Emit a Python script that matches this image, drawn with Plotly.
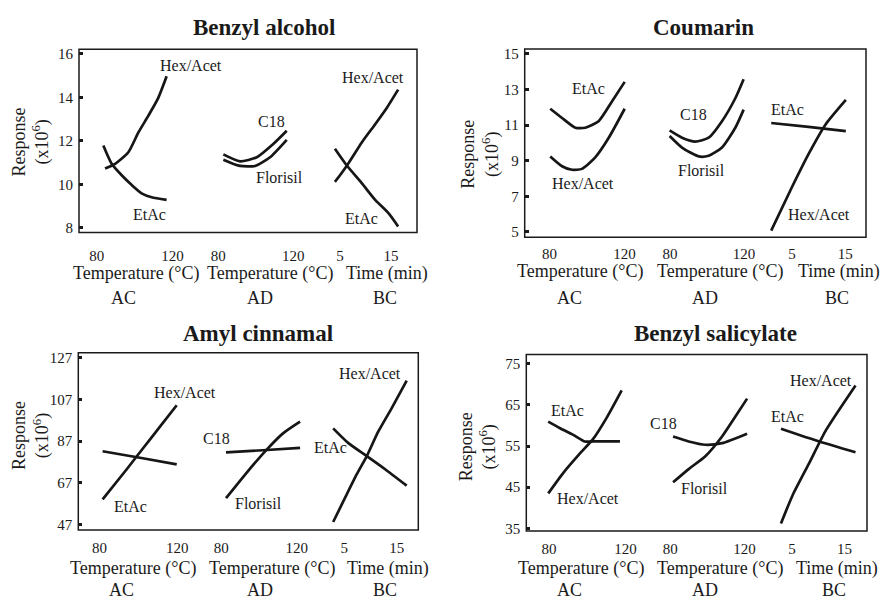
import plotly.graph_objects as go

W, H = 884, 609
SERIF = "Liberation Serif"

# ---------------- data ----------------
titles = ["Benzyl alcohol", "Coumarin", "Amyl cinnamal", "Benzyl salicylate"]
segment_names = ["AC", "AD", "BC"]
segment_axis_titles = ["Temperature (°C)", "Temperature (°C)", "Time (min)"]
segment_ticks = [[80, 120], [80, 120], [5, 15]]
y_ticks = [[8, 10, 12, 14, 16], [5, 7, 9, 11, 13, 15],
           [47, 67, 87, 107, 127], [35, 45, 55, 65, 75]]

# Benzyl alcohol
ba_ac_hex_x = [84.4, 89.7, 96.7, 102.0, 107.2, 112.5, 116.9]
ba_ac_hex_y = [10.73, 10.95, 11.48, 12.39, 13.15, 13.98, 14.97]
ba_ac_etac_x = [83.5, 87.9, 93.2, 98.5, 103.7, 109.0, 116.9]
ba_ac_etac_y = [11.79, 10.95, 10.42, 9.97, 9.59, 9.41, 9.29]
ba_ad_c18_x = [82.7, 91.6, 100.5, 109.3, 116.5]
ba_ad_c18_y = [11.38, 11.06, 11.25, 11.86, 12.47]
ba_ad_flo_x = [82.7, 91.6, 99.6, 107.6, 116.5]
ba_ad_flo_y = [11.14, 10.85, 10.85, 11.25, 12.05]
ba_bc_hex_x = [4.0, 5.0, 6.6, 9.3, 11.9, 14.2, 16.4]
ba_bc_hex_y = [10.12, 10.42, 10.95, 11.94, 12.77, 13.53, 14.36]
ba_bc_etac_x = [4.0, 6.3, 9.3, 11.9, 14.5, 16.4]
ba_bc_etac_y = [11.64, 10.88, 10.05, 9.29, 8.68, 8.07]

# Coumarin
co_ac_etac_x = [80.4, 86.7, 93.8, 99.1, 106.2, 113.3, 120.1]
co_ac_etac_y = [11.92, 11.40, 10.85, 10.85, 11.22, 12.33, 13.43]
co_ac_hex_x = [80.4, 86.7, 92.0, 97.3, 104.4, 111.6, 120.1]
co_ac_hex_y = [9.24, 8.69, 8.49, 8.54, 9.19, 10.29, 11.92]
co_ad_c18_x = [79.8, 86.5, 93.7, 100.9, 108.1, 115.3, 119.8]
co_ad_c18_y = [10.70, 10.29, 10.07, 10.29, 11.22, 12.51, 13.58]
co_ad_flo_x = [79.8, 86.5, 95.5, 100.9, 108.1, 115.3, 119.8]
co_ad_flo_y = [10.39, 9.74, 9.24, 9.28, 9.74, 10.85, 11.87]
co_bc_etac_x = [1.1, 8.1, 15.1]
co_bc_etac_y = [11.12, 10.90, 10.66]
co_bc_hex_x = [1.1, 5.0, 8.1, 11.3, 15.1]
co_bc_hex_y = [5.07, 7.52, 9.37, 11.04, 12.42]

# Amyl cinnamal
am_ac_hex_x = [81.6, 94.0, 102.5, 111.1, 119.7]
am_ac_hex_y = [59.0, 73.5, 83.7, 93.9, 104.2]
am_ac_etac_x = [81.6, 100.8, 119.7]
am_ac_etac_y = [82.1, 79.0, 75.8]
am_ad_c18_x = [82.5, 102.0, 121.8]
am_ad_c18_y = [81.6, 82.6, 83.7]
am_ad_flo_x = [82.5, 93.5, 104.1, 112.9, 121.8]
am_ad_flo_y = [59.6, 71.9, 82.9, 90.8, 96.3]
am_bc_hex_x = [2.9, 5.2, 7.4, 9.3, 11.5, 14.0, 16.9]
am_bc_hex_y = [48.2, 60.0, 71.1, 79.8, 91.6, 102.6, 116.0]
am_bc_etac_x = [2.9, 5.8, 9.3, 12.8, 16.9]
am_bc_etac_y = [93.1, 86.0, 79.8, 73.5, 65.6]

# Benzyl salicylate
bs_ac_etac_x = [79.6, 85.8, 92.7, 98.8, 103.2, 117.1]
bs_ac_etac_y = [60.9, 59.3, 57.7, 56.1, 56.1, 56.1]
bs_ac_hex_x = [79.6, 87.5, 96.2, 103.2, 110.2, 118.0]
bs_ac_hex_y = [43.5, 48.5, 53.2, 56.8, 61.9, 68.5]
bs_ad_c18_x = [81.5, 89.9, 98.9, 107.9, 121.4]
bs_ad_c18_y = [57.3, 56.1, 55.3, 55.7, 58.0]
bs_ad_flo_x = [81.5, 89.9, 98.9, 107.9, 115.0, 121.4]
bs_ad_flo_y = [46.2, 49.4, 52.5, 57.3, 62.1, 66.5]
bs_bc_etac_x = [2.9, 10.2, 17.1]
bs_bc_etac_y = [59.2, 56.1, 53.5]
bs_bc_hex_x = [2.9, 5.1, 8.3, 11.5, 17.1]
bs_bc_hex_y = [36.2, 43.0, 50.9, 58.9, 69.7]

# series: (panel, segment, name, x, y)
series = [
    (0, 0, "Hex/Acet", ba_ac_hex_x, ba_ac_hex_y),
    (0, 0, "EtAc", ba_ac_etac_x, ba_ac_etac_y),
    (0, 1, "C18", ba_ad_c18_x, ba_ad_c18_y),
    (0, 1, "Florisil", ba_ad_flo_x, ba_ad_flo_y),
    (0, 2, "Hex/Acet", ba_bc_hex_x, ba_bc_hex_y),
    (0, 2, "EtAc", ba_bc_etac_x, ba_bc_etac_y),
    (1, 0, "EtAc", co_ac_etac_x, co_ac_etac_y),
    (1, 0, "Hex/Acet", co_ac_hex_x, co_ac_hex_y),
    (1, 1, "C18", co_ad_c18_x, co_ad_c18_y),
    (1, 1, "Florisil", co_ad_flo_x, co_ad_flo_y),
    (1, 2, "EtAc", co_bc_etac_x, co_bc_etac_y),
    (1, 2, "Hex/Acet", co_bc_hex_x, co_bc_hex_y),
    (2, 0, "Hex/Acet", am_ac_hex_x, am_ac_hex_y),
    (2, 0, "EtAc", am_ac_etac_x, am_ac_etac_y),
    (2, 1, "C18", am_ad_c18_x, am_ad_c18_y),
    (2, 1, "Florisil", am_ad_flo_x, am_ad_flo_y),
    (2, 2, "Hex/Acet", am_bc_hex_x, am_bc_hex_y),
    (2, 2, "EtAc", am_bc_etac_x, am_bc_etac_y),
    (3, 0, "EtAc", bs_ac_etac_x, bs_ac_etac_y),
    (3, 0, "Hex/Acet", bs_ac_hex_x, bs_ac_hex_y),
    (3, 1, "C18", bs_ad_c18_x, bs_ad_c18_y),
    (3, 1, "Florisil", bs_ad_flo_x, bs_ad_flo_y),
    (3, 2, "EtAc", bs_bc_etac_x, bs_bc_etac_y),
    (3, 2, "Hex/Acet", bs_bc_hex_x, bs_bc_hex_y),
]

# ---------------- layout geometry (pixels) ----------------
boxes = [(79, 417, 47, 233), (524.7, 866, 46.7, 237.7),
         (78.3, 418.3, 355, 535), (526.3, 867, 356.7, 536)]
seg_bounds = [[79, 197, 315, 417], [524.7, 647, 767, 866],
              [78.3, 199, 318, 418.3], [526.3, 648, 771, 867]]
seg_tick_px = [
    [(96.7, 172.5), (218.3, 293.3), (340, 391)],
    [(549.5, 624.5), (670, 744), (792, 845.3)],
    [(99.5, 177.3), (221.3, 296.7), (344.2, 396.7)],
    [(549, 625.5), (670.3, 744.5), (792, 844.5)],
]
y_tick_px = [(228.3, 51.7), (232.3, 51.7), (529.3, 360), (533.3, 366)]
title_pos = [(264, 24.5), (703, 24.5), (258, 335.5), (715, 335.5)]
ytitle_pos = [(30.5, 141), (480, 153), (30.5, 439), (478, 450)]
axis_title_pos = [
    [(136, 275), (270, 275), (387, 275)],
    [(580, 272.5), (720, 272.5), (839, 272.5)],
    [(132.5, 573.5), (271.7, 573.5), (388.3, 573.5)],
    [(581, 574), (720.3, 574), (837, 574)],
]
group_pos = [
    [(123, 299.5), (260, 299.5), (385, 299.5)],
    [(569.5, 299), (705, 299), (837, 299)],
    [(121, 596), (260, 596), (385, 596)],
    [(569.5, 596), (705, 596), (834, 596)],
]
tick_standoff = [12, 6, 7, 7]
label_pos = {
    (0, 0, "Hex/Acet"): (190.7, 63.5), (0, 0, "EtAc"): (149, 215),
    (0, 1, "C18"): (271.7, 120.5), (0, 1, "Florisil"): (279.3, 177),
    (0, 2, "Hex/Acet"): (372.7, 75.5), (0, 2, "EtAc"): (361, 219),
    (1, 0, "EtAc"): (588.7, 87), (1, 0, "Hex/Acet"): (582.7, 183),
    (1, 1, "C18"): (693.7, 113.5), (1, 1, "Florisil"): (701, 170),
    (1, 2, "EtAc"): (787, 108.5), (1, 2, "Hex/Acet"): (819.3, 215),
    (2, 0, "Hex/Acet"): (185, 395), (2, 0, "EtAc"): (130, 511),
    (2, 1, "C18"): (216.7, 442), (2, 1, "Florisil"): (258.3, 508.5),
    (2, 2, "EtAc"): (330, 451), (2, 2, "Hex/Acet"): (370, 376),
    (3, 0, "EtAc"): (567.7, 414), (3, 0, "Hex/Acet"): (587.7, 503),
    (3, 1, "C18"): (663.7, 427), (3, 1, "Florisil"): (704.7, 493),
    (3, 2, "EtAc"): (787.7, 420), (3, 2, "Hex/Acet"): (821.3, 383),
}


def fx(p):
    return p / W


def fy(p):
    return 1 - p / H


def axis_range(v0, v1, p0, p1, d0, d1):
    s = (p1 - p0) / (v1 - v0)
    return [v0 + (d0 - p0) / s, v0 + (d1 - p0) / s]


fig = go.Figure()

for (pi, si, name, xs, ys) in series:
    xi = pi * 3 + si + 1
    fig.add_trace(go.Scatter(
        x=xs, y=ys, mode="lines", name=name, showlegend=False,
        line=dict(color="#161616", width=2.7, shape="spline", smoothing=0.6),
        xaxis="x" if xi == 1 else f"x{xi}",
        yaxis="y" if pi == 0 else f"y{pi + 1}",
        hoverinfo="skip",
    ))

layout = dict(
    width=W, height=H, margin=dict(l=0, r=0, t=0, b=0),
    paper_bgcolor="white", plot_bgcolor="rgba(0,0,0,0)",
    font=dict(family=SERIF, color="#1a1a1a", size=15),
    showlegend=False,
)

annotations = []
shapes = []

for pi in range(4):
    l, r, t, b = boxes[pi]
    ykey = "yaxis" if pi == 0 else f"yaxis{pi + 1}"
    yv0, yv1 = y_ticks[pi][0], y_ticks[pi][-1]
    yp0, yp1 = y_tick_px[pi]
    s = (yp0 - yp1) / (yv1 - yv0)
    yr = [yv0 - (b - yp0) / s, yv0 + (yp0 - t) / s]
    layout[ykey] = dict(
        domain=[fy(b), fy(t)], range=yr, anchor=f"x{pi * 3 + 1}" if pi else "x",
        tickvals=y_ticks[pi], ticktext=[str(v) for v in y_ticks[pi]],
        ticks="inside", ticklen=4, tickwidth=2.5, tickcolor="#1a1a1a",
        showgrid=False, zeroline=False, showline=False,
        tickfont=dict(family=SERIF, size=15, color="#1a1a1a"),
        ticklabelstandoff=5, fixedrange=True,
    )
    for si in range(3):
        xi = pi * 3 + si + 1
        xkey = "xaxis" if xi == 1 else f"xaxis{xi}"
        d0, d1 = seg_bounds[pi][si], seg_bounds[pi][si + 1]
        v0, v1 = segment_ticks[si]
        p0, p1 = seg_tick_px[pi][si]
        layout[xkey] = dict(
            domain=[fx(d0), fx(d1)], range=axis_range(v0, v1, p0, p1, d0, d1),
            anchor="y" if pi == 0 else f"y{pi + 1}",
            tickvals=segment_ticks[si], ticktext=[str(v) for v in segment_ticks[si]],
            ticks="", showgrid=False, zeroline=False, showline=False,
            tickfont=dict(family=SERIF, size=15, color="#1a1a1a"),
            ticklabelstandoff=tick_standoff[pi], fixedrange=True,
        )
        ax, ay = axis_title_pos[pi][si]
        annotations.append(dict(text=segment_axis_titles[si], x=fx(ax), y=fy(ay),
                                xref="paper", yref="paper", showarrow=False,
                                xanchor="center", yanchor="middle",
                                font=dict(family=SERIF, size=18, color="#1a1a1a")))
        gx, gy = group_pos[pi][si]
        annotations.append(dict(text=segment_names[si], x=fx(gx), y=fy(gy),
                                xref="paper", yref="paper", showarrow=False,
                                xanchor="center", yanchor="middle",
                                font=dict(family=SERIF, size=18, color="#1a1a1a")))
    shapes.append(dict(type="rect", xref="paper", yref="paper",
                       x0=fx(l), x1=fx(r), y0=fy(b), y1=fy(t),
                       line=dict(color="#1a1a1a", width=1.5)))
    tx, ty = title_pos[pi]
    annotations.append(dict(text=f"<b>{titles[pi]}</b>", x=fx(tx), y=fy(ty),
                            xref="paper", yref="paper", showarrow=False,
                            xanchor="center", yanchor="middle",
                            font=dict(family=SERIF, size=23, color="#1a1a1a")))
    yx, yy = ytitle_pos[pi]
    annotations.append(dict(text="Response<br>(x10<sup>6</sup>)", x=fx(yx), y=fy(yy),
                            xref="paper", yref="paper", showarrow=False,
                            textangle=-90, xanchor="center", yanchor="middle",
                            font=dict(family=SERIF, size=18, color="#1a1a1a")))

for (pi, si, name, xs, ys) in series:
    lx, ly = label_pos[(pi, si, name)]
    annotations.append(dict(text=name, x=fx(lx), y=fy(ly), xref="paper", yref="paper",
                            showarrow=False, xanchor="center", yanchor="middle",
                            font=dict(family=SERIF, size=16, color="#1a1a1a")))

layout["annotations"] = annotations
layout["shapes"] = shapes
fig.update_layout(**layout)
fig.write_html("out.html")
